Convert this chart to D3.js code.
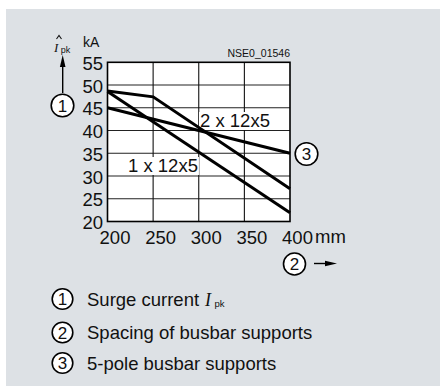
<!DOCTYPE html>
<html>
<head>
<meta charset="utf-8">
<script src="https://cdn.jsdelivr.net/npm/d3@7"></script>
<style>
  html, body { margin: 0; padding: 0; background: #ffffff; }
  svg { display: block; font-family: "Liberation Sans", Arial, sans-serif; }
</style>
</head>
<body>
<svg id="chart" width="440" height="387"></svg>
<script>
// Surge current vs. spacing of busbar supports
const spacingTicks = [200, 250, 300, 350, 400];
const currentTicks = [20, 25, 30, 35, 40, 45, 50, 55];

// 2 x 12x5 busbars
const twoBarSpacing = [200, 250, 400];
const twoBarCurrent = [48.7, 47.4, 27.2];
// 1 x 12x5 busbar
const oneBarSpacing = [200, 400];
const oneBarCurrent = [48.6, 21.9];
// 5-pole busbar supports
const fivePoleSpacing = [200, 400];
const fivePoleCurrent = [45, 35];

const legendItems = ["Surge current", "Spacing of busbar supports", "5-pole busbar supports"];

const svg = d3.select("#chart");

// grey panel
svg.append("rect").attr("x", 6).attr("y", 9).attr("width", 434).attr("height", 377)
  .attr("fill", "#dde1e5");

const x = d3.scaleLinear().domain([200, 400]).range([107.5, 290]);
const y = d3.scaleLinear().domain([20, 55]).range([221.5, 62.3]);

const plot = svg.append("g");

// plot background
plot.append("rect").attr("x", x(200)).attr("y", y(55))
  .attr("width", x(400) - x(200)).attr("height", y(20) - y(55)).attr("fill", "#fff");

// grid
plot.selectAll(".hgrid").data(currentTicks.slice(1, -1)).join("line")
  .attr("x1", x(200)).attr("x2", x(400))
  .attr("y1", d => y(d)).attr("y2", d => y(d))
  .attr("stroke", "#222").attr("stroke-width", 1.1);
plot.selectAll(".vgrid").data(spacingTicks.slice(1, -1)).join("line")
  .attr("y1", y(20)).attr("y2", y(55))
  .attr("x1", d => x(d)).attr("x2", d => x(d))
  .attr("stroke", "#111").attr("stroke-width", 1.1);

// curve labels on white boxes
function boxedLabel(text, lx, baseline) {
  const t = plot.append("text").attr("x", lx).attr("y", baseline)
    .attr("font-size", 18.5).attr("fill", "#111").text(text);
  const b = t.node().getBBox();
  plot.insert("rect", () => t.node())
    .attr("x", b.x - 1).attr("y", b.y + 2).attr("width", b.width + 2).attr("height", b.height - 3)
    .attr("fill", "#fff");
}
boxedLabel("2 x 12x5", 200, 127);
boxedLabel("1 x 12x5", 128, 172);

// curves
const line = d3.line().x(d => x(d[0])).y(d => y(d[1]));
const curves = [
  d3.zip(twoBarSpacing, twoBarCurrent),
  d3.zip(oneBarSpacing, oneBarCurrent),
  d3.zip(fivePoleSpacing, fivePoleCurrent)
];
plot.selectAll(".curve").data(curves).join("path")
  .attr("d", line).attr("fill", "none").attr("stroke", "#000")
  .attr("stroke-width", 3).attr("stroke-linejoin", "miter");

// frame
plot.append("rect").attr("x", x(200)).attr("y", y(55))
  .attr("width", x(400) - x(200)).attr("height", y(20) - y(55))
  .attr("fill", "none").attr("stroke", "#000").attr("stroke-width", 1.6);

// axes
const yAxis = svg.append("g").attr("transform", `translate(${x(200)},0)`)
  .call(d3.axisLeft(y).tickValues(currentTicks).tickSize(0).tickPadding(4.5));
yAxis.select(".domain").remove();
yAxis.selectAll("text").attr("font-size", 18.5).attr("fill", "#111")
  .attr("font-family", "Liberation Sans, Arial, sans-serif").attr("dy", "0.38em");

const xAxis = svg.append("g").attr("transform", `translate(0,${y(20)})`)
  .call(d3.axisBottom(x).tickValues(spacingTicks).tickSize(0).tickPadding(0));
xAxis.select(".domain").remove();
xAxis.selectAll("text").attr("font-size", 18.5).attr("fill", "#111")
  .attr("font-family", "Liberation Sans, Arial, sans-serif")
  .attr("dx", 7).attr("dy", 0).attr("y", 22);

// units
svg.append("text").attr("x", 315).attr("y", 243).attr("font-size", 18.5).attr("fill", "#111").text("mm");
svg.append("text").attr("x", 83).attr("y", 47).attr("font-size", 14).attr("fill", "#111").text("kA");
svg.append("text").attr("x", 290).attr("y", 57).attr("text-anchor", "end")
  .attr("font-size", 10.5).attr("fill", "#111").text("NSE0_01546");

// quantity symbol I with "pk" subscript
function symbolIpk(g, sx, baseline, size, subSize) {
  g.append("text").attr("x", sx).attr("y", baseline)
    .attr("font-family", "Liberation Serif, Times New Roman, serif")
    .attr("font-style", "italic").attr("font-size", size).attr("fill", "#111").text("I");
  g.append("text").attr("x", sx + size * 0.52).attr("y", baseline + 1)
    .attr("font-size", subSize).attr("fill", "#111").text("pk");
}
symbolIpk(svg, 54, 52, 13, 9);
svg.append("path").attr("d", "M56.5,39 L59,35.5 L61.5,39").attr("fill", "none")
  .attr("stroke", "#111").attr("stroke-width", 1.1);

// arrow up from marker 1
svg.append("line").attr("x1", 62.7).attr("x2", 62.7).attr("y1", 93).attr("y2", 64)
  .attr("stroke", "#000").attr("stroke-width", 1.4);
svg.append("path").attr("d", "M62.7,55 L65.5,67 L59.9,67 Z").attr("fill", "#000");

// numbered markers
function marker(cx, cy, r, n) {
  svg.append("circle").attr("cx", cx).attr("cy", cy).attr("r", r)
    .attr("fill", "#fff").attr("stroke", "#000").attr("stroke-width", 1.6);
  svg.append("text").attr("x", cx).attr("y", cy).attr("dy", "0.36em")
    .attr("text-anchor", "middle").attr("font-size", 17).attr("fill", "#111").text(n);
}
marker(62.5, 105.5, 11.3, 1);
marker(306.5, 154, 11.3, 3);
marker(294.5, 264, 11, 2);

// arrow right from marker 2
svg.append("line").attr("x1", 314).attr("x2", 328).attr("y1", 263.5).attr("y2", 263.5)
  .attr("stroke", "#000").attr("stroke-width", 1.4);
svg.append("path").attr("d", "M337,263.5 L325,260.8 L325,266.2 Z").attr("fill", "#000");

// legend
const legendY = [299, 332.5, 363];
legendItems.forEach((txt, i) => {
  marker(62.5, legendY[i], 10.3, i + 1);
  const t = svg.append("text").attr("x", 87).attr("y", legendY[i] + 6.5)
    .attr("font-size", 18.5).attr("fill", "#111").text(txt);
  if (i === 0) {
    const w = t.node().getComputedTextLength();
    symbolIpk(svg, 87 + w + 6, legendY[i] + 6.5, 18, 9.5);
  }
});
</script>
</body>
</html>
